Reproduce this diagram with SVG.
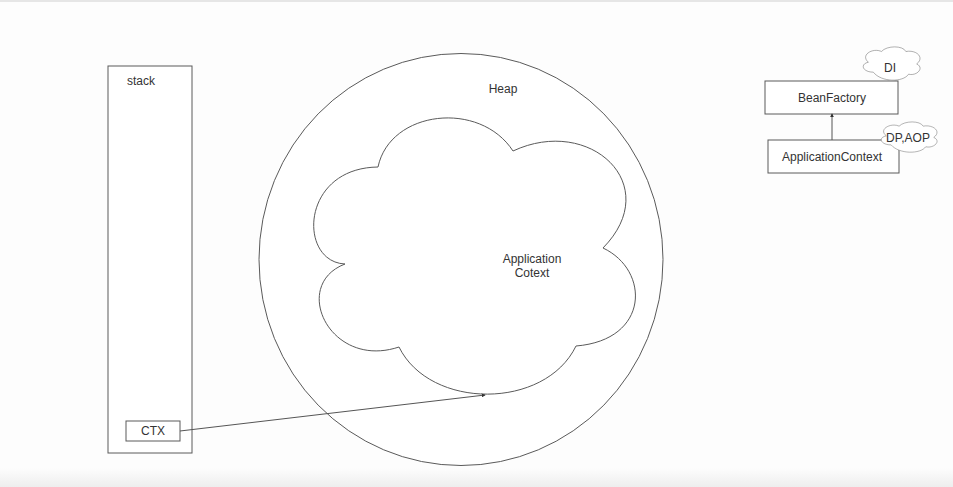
<svg xmlns="http://www.w3.org/2000/svg" width="953" height="487" viewBox="0 0 953 487">
  <defs>
    <style>
      .shape { fill: #ffffff; stroke: #5a5a5a; stroke-width: 1; }
      .lbl { font-family: "Liberation Sans", Arial, sans-serif; font-size: 12px; fill: #333333; text-anchor: middle; }
      .conn { fill: none; stroke: #555555; stroke-width: 1; }
      .cloud-s { fill: #ffffff; stroke: #5a5a5a; stroke-width: 1; vector-effect: non-scaling-stroke; }
    </style>
    <linearGradient id="bottomBand" x1="0" y1="0" x2="0" y2="1">
      <stop offset="0" stop-color="#fdfdfd"/>
      <stop offset="1" stop-color="#eeeeee"/>
    </linearGradient>
    <marker id="arr" viewBox="0 0 6 6" refX="5" refY="3" markerWidth="4" markerHeight="4" orient="auto" markerUnits="userSpaceOnUse">
      <path d="M0,0 L6,3 L0,6 Z" fill="#333333"/>
    </marker>
    <path id="cloudShape" d="M 25 60 C 5 60 0 40 16 36 C 0 18 25 0 40 10 C 50 -5 80 -5 85 10 C 105 5 120 25 105 40 C 120 50 105 70 90 65 C 80 85 40 85 25 60 Z"/>
  </defs>

  <rect x="0" y="0" width="953" height="487" fill="#fdfdfd"/>
  <rect x="0" y="0" width="953" height="2" fill="#e6e6e6"/>
  <rect x="0" y="468" width="953" height="19" fill="url(#bottomBand)"/>

  <g id="stack">
    <rect class="shape" x="108" y="66" width="84" height="387"/>
    <text class="lbl" x="141" y="85">stack</text>
  </g>

  <g id="ctx">
    <rect class="shape" x="126" y="421" width="54" height="20"/>
    <text class="lbl" x="153" y="435">CTX</text>
  </g>

  <g id="heap">
    <ellipse class="shape" cx="461" cy="259.5" rx="202" ry="206"/>
    <text class="lbl" x="503" y="93">Heap</text>
  </g>

  <g id="appcontext-cloud">
    <path class="shape" d="M 345 264 C 298 262 300 168 378 167 C 390 110 480 100 513 151 C 590 115 665 185 603 248 C 650 270 650 340 576 346 C 545 410 430 410 399 347 C 330 370 290 285 345 264 Z"/>
    <text class="lbl" x="532" y="263">Application</text>
    <text class="lbl" x="532" y="277">Cotext</text>
  </g>

  <g id="beanfactory">
    <rect class="shape" x="765" y="81" width="133" height="33"/>
    <text class="lbl" x="832" y="102">BeanFactory</text>
  </g>

  <g id="applicationcontext">
    <rect class="shape" x="768" y="140" width="131" height="33"/>
    <text class="lbl" x="832" y="161">ApplicationContext</text>
  </g>

  <g id="di-cloud">
    <use href="#cloudShape" class="cloud-s" transform="translate(859.7,47.4) scale(0.543,0.4125)"/>
    <text class="lbl" x="890" y="72">DI</text>
  </g>

  <g id="dpaop-cloud">
    <use href="#cloudShape" class="cloud-s" transform="translate(877.8,122.4) scale(0.533,0.375)"/>
    <text class="lbl" x="908" y="142">DP,AOP</text>
  </g>

  <g id="connectors">
    <path class="conn" d="M 180 431 L 485 395" marker-end="url(#arr)"/>
    <path class="conn" d="M 832 140 L 832 114" marker-end="url(#arr)"/>
  </g>
</svg>
